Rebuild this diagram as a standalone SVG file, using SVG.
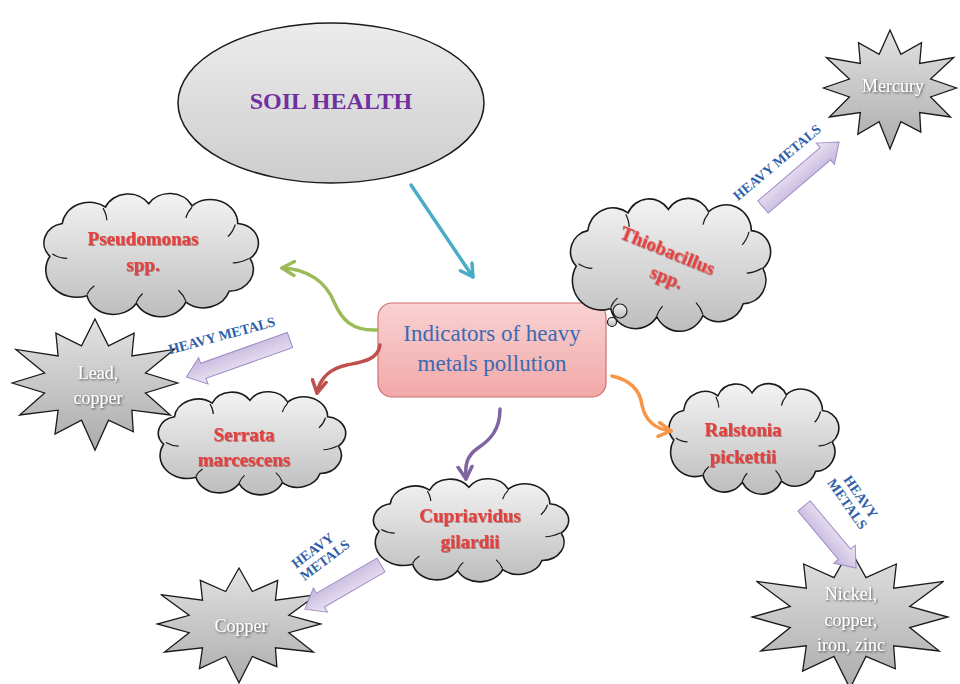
<svg xmlns="http://www.w3.org/2000/svg" width="960" height="684" viewBox="0 0 960 684">
<style>
.cloud{fill:url(#gCloud);stroke:#1a1a1a;stroke-width:1.6}
.curl{fill:none;stroke:#1a1a1a;stroke-width:1.2}
.star{fill:url(#gStar);stroke:#1a1a1a;stroke-width:1.3}
.bact{font-family:"Liberation Serif",serif;font-weight:bold;font-size:19px;fill:#e5403d;text-anchor:middle;filter:url(#sh)}
.metal{font-family:"Liberation Serif",serif;font-size:18px;fill:#ffffff;text-anchor:middle;filter:url(#shd)}
.hm{font-family:"Liberation Serif",serif;font-weight:bold;font-size:14px;fill:#2f5fa8;text-anchor:middle}
.blk{fill:url(#gArr);stroke:#a08cc6;stroke-width:1}
.conn{fill:none;stroke-width:3.5;stroke-linecap:round}
</style>
<defs>
<linearGradient id="gCloud" x1="0" y1="0" x2="0" y2="1"><stop offset="0" stop-color="#f3f3f3"/><stop offset="0.5" stop-color="#d8d8d8"/><stop offset="1" stop-color="#bdbdbd"/></linearGradient>
<linearGradient id="gStar" x1="0" y1="0" x2="0" y2="1"><stop offset="0" stop-color="#e2e2e2"/><stop offset="1" stop-color="#acacac"/></linearGradient>
<linearGradient id="gEll" x1="0" y1="0" x2="0" y2="1"><stop offset="0" stop-color="#ececec"/><stop offset="1" stop-color="#cdcdcd"/></linearGradient>
<linearGradient id="gBox" x1="0" y1="0" x2="0" y2="1"><stop offset="0" stop-color="#f9d2d2"/><stop offset="1" stop-color="#f2a8a8"/></linearGradient>
<linearGradient id="gArr" x1="0" y1="0" x2="0" y2="1"><stop offset="0" stop-color="#ece6f4"/><stop offset="1" stop-color="#c3b4dc"/></linearGradient>
<filter id="sh" x="-10%" y="-20%" width="120%" height="140%"><feDropShadow dx="0.8" dy="0.8" stdDeviation="0.6" flood-color="#7a1a1a" flood-opacity="0.6"/></filter>
<filter id="shd" x="-10%" y="-20%" width="120%" height="140%"><feDropShadow dx="1" dy="1" stdDeviation="0.8" flood-color="#333" flood-opacity="0.8"/></filter>
<path id="cloudP" vector-effect="non-scaling-stroke" d="M20,60 A18,18 0 0 1 30,30 A22,22 0 0 1 65,15 A20,20 0 0 1 100,12 A20,20 0 0 1 135,14 A22,22 0 0 1 172,30 A18,18 0 0 1 182,62 A20,20 0 0 1 165,92 A22,22 0 0 1 130,102 A22,22 0 0 1 90,103 A22,22 0 0 1 50,96 A25,25 0 0 1 20,60 Z"/>
<path id="curlP" vector-effect="non-scaling-stroke" d="M22,58 Q28,62 34,62 M63,16 Q66,22 66,27 M135,15 Q131,20 130,25 M170,31 Q168,38 164,42 M181,62 Q174,66 168,66 M130,101 Q128,95 124,91 M90,102 Q92,97 95,94 M50,95 Q52,90 56,87"/>
<polygon id="starP" vector-effect="non-scaling-stroke" points="0,-100 15.5,-58 45,-78 42.4,-42.4 91,-52.5 58,-15.5 95,0 58,15.5 86.6,50 42.4,42.4 44,76.2 15.5,58 0,105 -15.5,58 -46,79.7 -42.4,42.4 -86.6,50 -58,15.5 -95,0 -58,-15.5 -91,-52.5 -42.4,-42.4 -45,-78 -15.5,-58"/>
<marker id="mTeal" viewBox="0 0 10 10" refX="8" refY="5" markerWidth="5" markerHeight="5" orient="auto"><path d="M1,1 L8,5 L1,9" fill="none" stroke="#4bacc6" stroke-width="2" stroke-linecap="round" stroke-linejoin="round"/></marker>
<marker id="mGreen" viewBox="0 0 10 10" refX="8" refY="5" markerWidth="5" markerHeight="5" orient="auto"><path d="M1,1 L8,5 L1,9" fill="none" stroke="#9bbb59" stroke-width="2" stroke-linecap="round" stroke-linejoin="round"/></marker>
<marker id="mRed" viewBox="0 0 10 10" refX="8" refY="5" markerWidth="5" markerHeight="5" orient="auto"><path d="M1,1 L8,5 L1,9" fill="none" stroke="#c0504d" stroke-width="2" stroke-linecap="round" stroke-linejoin="round"/></marker>
<marker id="mPurple" viewBox="0 0 10 10" refX="8" refY="5" markerWidth="5" markerHeight="5" orient="auto"><path d="M1,1 L8,5 L1,9" fill="none" stroke="#8064a2" stroke-width="2" stroke-linecap="round" stroke-linejoin="round"/></marker>
<marker id="mOrange" viewBox="0 0 10 10" refX="8" refY="5" markerWidth="5" markerHeight="5" orient="auto"><path d="M1,1 L8,5 L1,9" fill="none" stroke="#f79646" stroke-width="2" stroke-linecap="round" stroke-linejoin="round"/></marker>
</defs>
<rect width="960" height="684" fill="#ffffff"/>

<g id="soil-health">
<ellipse cx="331" cy="103" rx="153" ry="80" fill="url(#gEll)" stroke="#1a1a1a" stroke-width="1.5"/>
<text x="331" y="109" font-family="'Liberation Serif',serif" font-weight="bold" font-size="24" fill="#7030a0" text-anchor="middle">SOIL HEALTH</text>
</g>

<g id="indicators">
<rect x="378" y="303" width="228" height="94" rx="14" fill="url(#gBox)" stroke="#d07070" stroke-width="1.2"/>
<text x="492" y="341" font-family="'Liberation Serif',serif" font-size="23" fill="#3a6ab2" text-anchor="middle">Indicators of heavy</text>
<text x="492" y="371" font-family="'Liberation Serif',serif" font-size="23" fill="#3a6ab2" text-anchor="middle">metals pollution</text>
</g>

<g id="pseudomonas">
<g transform="translate(40,195) scale(1.236,1.094) translate(-12,-4)"><use href="#cloudP" class="cloud"/><use href="#curlP" class="curl"/></g>
<text class="bact" x="143" y="245">Pseudomonas</text>
<text class="bact" x="143" y="271">spp.</text>
</g>

<g id="thiobacillus">
<g transform="translate(567,200) scale(1.152,1.179) translate(-12,-4)"><use href="#cloudP" class="cloud"/><use href="#curlP" class="curl"/></g>
<circle cx="620" cy="311" r="7" fill="url(#gCloud)" stroke="#1a1a1a" stroke-width="1.2"/>
<circle cx="612" cy="322" r="4.5" fill="url(#gCloud)" stroke="#1a1a1a" stroke-width="1.2"/>
<g transform="rotate(22 663 262)">
<text class="bact" x="663" y="256">Thiobacillus</text>
<text class="bact" x="672" y="281">spp.</text>
</g>
</g>

<g id="serrata">
<g transform="translate(155,393) scale(1.079,0.915) translate(-12,-4)"><use href="#cloudP" class="cloud"/><use href="#curlP" class="curl"/></g>
<text class="bact" x="244" y="441">Serrata</text>
<text class="bact" x="244" y="466">marcescens</text>
</g>

<g id="cupriavidus">
<g transform="translate(370,480) scale(1.124,0.915) translate(-12,-4)"><use href="#cloudP" class="cloud"/><use href="#curlP" class="curl"/></g>
<text class="bact" x="470" y="522">Cupriavidus</text>
<text class="bact" x="470" y="548">gilardii</text>
</g>

<g id="ralstonia">
<g transform="translate(666,385) scale(0.978,0.981) translate(-12,-4)"><use href="#cloudP" class="cloud"/><use href="#curlP" class="curl"/></g>
<text class="bact" x="743" y="436">Ralstonia</text>
<text class="bact" x="743" y="463">pickettii</text>
</g>

<g id="lead-copper">
<use href="#starP" class="star" transform="translate(95,383) scale(0.87,0.64)"/>
<text class="metal" x="98" y="379">Lead,</text>
<text class="metal" x="98" y="404">copper</text>
</g>

<g id="copper">
<use href="#starP" class="star" transform="translate(239,624) scale(0.86,0.56)"/>
<text class="metal" x="241" y="632">Copper</text>
</g>

<g id="mercury">
<use href="#starP" class="star" transform="translate(890,88) scale(0.70,0.58)"/>
<text class="metal" x="893" y="92">Mercury</text>
</g>

<g id="nickel">
<use href="#starP" class="star" transform="translate(850,617) scale(1.03,0.68)"/>
<text class="metal" x="851" y="600" font-size="21">Nickel,</text>
<text class="metal" x="851" y="626" font-size="21">copper,</text>
<text class="metal" x="851" y="651" font-size="21">iron, zinc</text>
</g>

<g id="connectors">
<path class="conn" stroke="#4bacc6" marker-end="url(#mTeal)" d="M411,185 L473,277"/>
<path class="conn" stroke="#9bbb59" marker-end="url(#mGreen)" d="M377,330 C352,331 342,320 334,302 C326,282 308,269 282,268"/>
<path class="conn" stroke="#c0504d" marker-end="url(#mRed)" d="M380,345 C378,360 362,362 347,365 C332,368 320,377 317,393"/>
<path class="conn" stroke="#8064a2" marker-end="url(#mPurple)" d="M500,409 C500,430 490,440 478,448 C466,456 465,466 466,479"/>
<path class="conn" stroke="#f79646" marker-end="url(#mOrange)" d="M612,376 C630,380 640,390 642,405 C645,420 655,429 671,431"/>

<path class="blk" transform="translate(290,340) rotate(160.4)" d="M0,-8 H92 V-14 L110,0 L92,14 V8 H0 Z"/>
<path class="blk" transform="translate(381,565) rotate(149.9)" d="M0,-8 H70 V-14 L88,0 L70,14 V8 H0 Z"/>
<path class="blk" transform="translate(763,207) rotate(-40.5)" d="M0,-8 H82 V-14 L100,0 L82,14 V8 H0 Z"/>
<path class="blk" transform="translate(804,506) rotate(50)" d="M0,-8 H63 V-14 L81,0 L63,14 V8 H0 Z"/>

<text class="hm" transform="translate(223,340) rotate(-15)">HEAVY METALS</text>
<text class="hm" transform="translate(780,166) rotate(-40)">HEAVY METALS</text>
<g transform="rotate(-37 320 557)">
<text class="hm" x="318" y="552">HEAVY</text>
<text class="hm" x="322" y="567">METALS</text>
</g>
<g transform="rotate(55 852 503)">
<text class="hm" x="852" y="497">HEAVY</text>
<text class="hm" x="850" y="512">METALS</text>
</g>
</g>
</svg>
